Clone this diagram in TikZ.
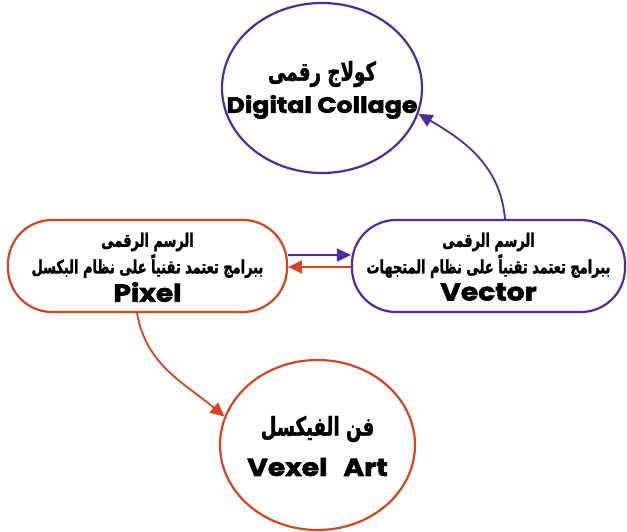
\documentclass[tikz,border=0pt]{standalone}
\usepackage{fontspec}
\usetikzlibrary{shapes.geometric,arrows.meta}
\TeXXeTstate=1
\newfontfamily\arabicfont[Script=Arabic,BoldFeatures={FakeBold=1.5,FakeStretch=0.7}]{DejaVu Sans}
\newfontfamily\latfont[BoldFeatures={FakeBold=2.4,FakeStretch=1.15}]{Poppins}
\definecolor{vpurple}{RGB}{78,44,158}
\definecolor{vorange}{RGB}{214,68,32}
\begin{document}
\begin{tikzpicture}[x=1pt,y=1pt,
  ell/.style={draw, ellipse, line width=2.2pt, inner sep=0pt},
  pill/.style={draw, rectangle, rounded corners=44pt, line width=2.2pt, inner sep=0pt},
  artitle/.style={inner sep=1pt, font=\arabicfont\bfseries\fontsize{26}{29}\selectfont},
  arline/.style={inner sep=1pt, font=\arabicfont\bfseries\fontsize{18.5}{21}\selectfont},
  lattitle/.style={inner sep=1pt, font=\latfont\bfseries\fontsize{22}{26}\selectfont},
  latbig/.style={inner sep=1pt, font=\latfont\bfseries\fontsize{24.5}{28}\selectfont},
  conn/.style={line width=1.8pt, -{Triangle[length=14pt,width=13pt]}}
]
\useasboundingbox (0,0) rectangle (627,531);
% shapes
\node[ell, vpurple, minimum width=200pt, minimum height=170pt] (top) at (322,443) {};
\node[ell, vorange, minimum width=195pt, minimum height=170pt] (bot) at (317.5,86) {};
\node[pill, vorange, minimum width=279pt, minimum height=92pt] (pix) at (147.5,265) {};
\node[pill, vpurple, minimum width=273pt, minimum height=92pt] (vec) at (488.5,265) {};
% texts
\node[artitle] (topar) at ([yshift=14pt]top.center) {\beginR كولاج رقمى\endR};
\node[lattitle] (toplat) at ([yshift=-19pt]top.center) {Digital Collage};
\node[artitle] (botar) at ([yshift=16pt]bot.center) {\beginR فن الفيكسل\endR};
\node[latbig] (botlat) at ([yshift=-22pt]bot.center) {Vexel\hspace{16pt}Art};
\node[arline] (pixa) at ([yshift=24pt]pix.center) {\beginR الرسم الرقمى\endR};
\node[arline] (pixb) at ([yshift=0pt]pix.center) {\beginR ببرامج تعتمد تقنياً على نظام البكسل\endR};
\node[latbig] (pixc) at ([yshift=-26pt]pix.center) {Pixel};
\node[arline] (veca) at ([yshift=24pt]vec.center) {\beginR الرسم الرقمى\endR};
\node[arline] (vecb) at ([yshift=0pt]vec.center) {\beginR ببرامج تعتمد تقنياً على نظام المتجهات\endR};
\node[latbig] (vecc) at ([yshift=-26pt]vec.center) {Vector};
% connectors
\draw[conn, vpurple] ([yshift=11pt]pix.east) -- ([yshift=11pt]vec.west);
\draw[conn, vorange] ([yshift=-1pt]vec.west) -- ([yshift=-1pt]pix.east);
\draw[conn, vpurple] ([xshift=16.5pt]vec.north) to[out=95, in=-30] (top.-15);
\draw[conn, vorange] ([xshift=-10.5pt]pix.south) to[out=-80, in=140] (bot.163);
\end{tikzpicture}
\end{document}
